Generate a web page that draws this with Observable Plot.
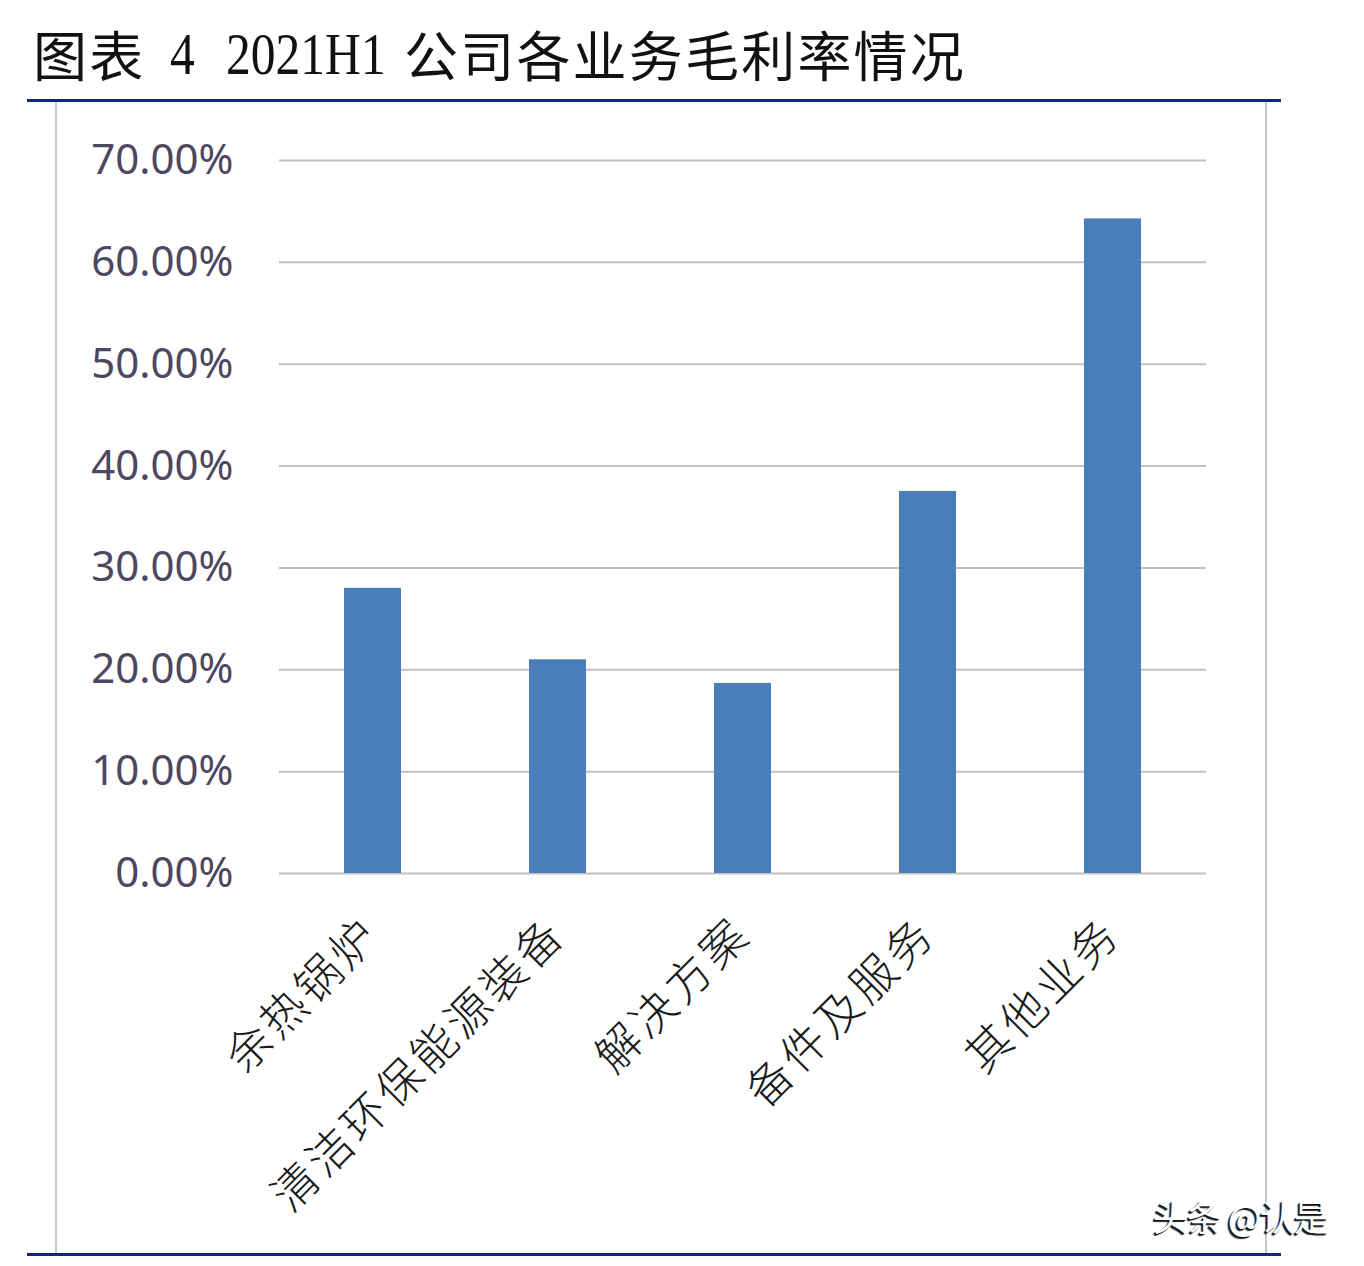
<!DOCTYPE html>
<html>
<head>
<meta charset="utf-8">
<script src="https://cdn.jsdelivr.net/npm/d3@7"></script>
<script src="https://cdn.jsdelivr.net/npm/@observablehq/plot@0.6"></script>
<style>
  html, body { margin: 0; padding: 0; background: #fff; overflow: hidden; }
  #page { position: relative; width: 1364px; height: 1266px; overflow: hidden; background: #fff; }
  .t { position: absolute; white-space: pre; color: #111; line-height: 1; }
  .cjk { font-family: "Noto Sans CJK SC", sans-serif; font-size: 54px; top: 27px; letter-spacing: 2.2px; }
  .lat { font-family: "Liberation Serif", serif; font-size: 59px; top: 25px; transform: scaleX(0.84); transform-origin: left top; }
  .navy { position: absolute; left: 27px; width: 1254px; height: 3px; background: #0c2a7c; }
  #frame { position: absolute; left: 55px; top: 101px; width: 1208px; height: 1154px; border-left: 2px solid #c8c8c8; border-right: 2px solid #c8c8c8; }
  #chart { position: absolute; left: 0; top: 101px; }
  #chart g[aria-label="text"] text { letter-spacing: 4px; }
  #wm { position: absolute; left: 1153px; top: 1190px; font-family: "Noto Sans CJK SC", sans-serif; font-size: 35px; color: #fff; text-shadow: -1px 1px 0 #111, -2px 2px 1px #222; letter-spacing: -1px; white-space: pre; }
</style>
</head>
<body>
<div id="page">
  <div id="frame"></div>
  <div class="t cjk" style="left:33px">图表</div>
  <div class="t lat" style="left:170px">4</div>
  <div class="t lat" style="left:226px">2021H1</div>
  <div class="t cjk" style="left:404px">公司各业务毛利率情况</div>
  <div class="navy" style="top:99px"></div>
  <div id="chart"></div>
  <div class="navy" style="top:1253px"></div>
  <div id="wm">头条 @认是</div>
</div>
<script>
const categories = ["余热锅炉", "清洁环保能源装备", "解决方案", "备件及服务", "其他业务"];
const margins = [0.2800, 0.2098, 0.1866, 0.3751, 0.6427];
const yTicks = [0, 0.1, 0.2, 0.3, 0.4, 0.5, 0.6, 0.7];

const data = categories.map((c, i) => ({cat: c, val: margins[i]}));

const chart = Plot.plot({
  width: 1364,
  height: 1165,
  marginLeft: 279,
  marginRight: 158,
  marginTop: 59,
  marginBottom: 393,
  style: {background: "none", fontFamily: "'Noto Sans', 'Open Sans', sans-serif", overflow: "visible"},
  x: {domain: categories, paddingInner: 0.69, paddingOuter: 0.345, axis: null},
  y: {domain: [0, 0.7], axis: null},
  marks: [
    Plot.gridY(yTicks, {stroke: "#c0c0c0", strokeOpacity: 1, strokeWidth: 2}),
    Plot.axisY(yTicks, {
      label: null,
      tickSize: 0,
      tickPadding: 46,
      tickFormat: d3.format(".2%"),
      fontSize: 42,
      fill: "#4d4760",
      fontFamily: "'Noto Sans', sans-serif"
    }),
    Plot.barY(data, {x: "cat", y: "val", fill: "#4a7ebb"}),
    Plot.text(data, {
      x: "cat",
      text: "cat",
      frameAnchor: "bottom",
      rotate: -45,
      textAnchor: "end",
      lineAnchor: "middle",
      dx: 0,
      dy: 53,
      fontSize: 45,
      fontWeight: 300,
      fill: "#1a1a1a",
      fontFamily: "'Noto Sans CJK SC', sans-serif"
    })
  ]
});
document.getElementById("chart").appendChild(chart);
</script>
</body>
</html>
